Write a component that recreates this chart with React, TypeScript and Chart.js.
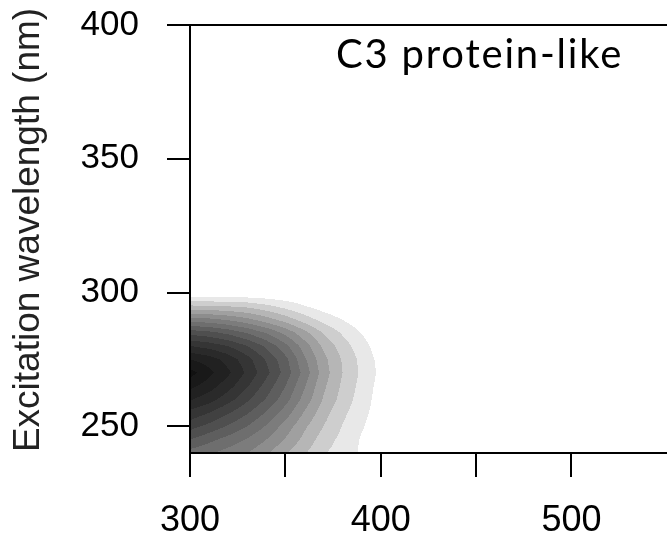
import React, { useEffect, useRef } from "react";
import { Chart, registerables } from "chart.js";

Chart.register(...registerables);

// Emission wavelength grid (nm) – x axis
const emissionNm = [300, 310, 320, 330, 340, 350, 360, 370, 380, 390, 400, 410];
// Excitation wavelength grid (nm) – y axis
const excitationNm = [240, 245, 250, 255, 260, 265, 270, 275, 280, 285, 290, 295, 300];

// Component intensity (in contour-level units), one row per excitation
const ex240 = [7.6, 7.1, 6.6, 6.0, 5.2, 4.1, 3.1, 2.1, 1.5, 0.85, 0.3, 0];
const ex245 = [9.0, 8.3, 7.6, 6.9, 6.0, 4.9, 3.7, 2.5, 1.7, 0.9, 0.35, 0];
const ex250 = [10.4, 9.7, 8.9, 8.0, 6.9, 5.6, 4.2, 3.0, 1.95, 1.1, 0.4, 0];
const ex255 = [11.7, 11.0, 10.1, 9.1, 7.9, 6.5, 4.9, 3.4, 2.25, 1.3, 0.5, 0];
const ex260 = [13.1, 12.4, 11.4, 10.2, 8.9, 7.4, 5.6, 3.9, 2.6, 1.5, 0.55, 0];
const ex265 = [14.3, 13.5, 12.4, 11.1, 9.6, 8.0, 6.1, 4.2, 2.8, 1.65, 0.62, 0];
const ex270 = [15.4, 14.3, 13.2, 11.8, 10.3, 8.6, 6.6, 4.5, 3.0, 1.8, 0.75, 0];
const ex275 = [14.0, 13.5, 12.6, 11.4, 9.9, 8.3, 6.2, 4.3, 2.9, 1.7, 0.65, 0];
const ex280 = [12.0, 11.6, 11.0, 10.0, 8.8, 7.3, 5.5, 3.8, 2.5, 1.4, 0.45, 0];
const ex285 = [9.6, 9.3, 8.7, 7.9, 6.9, 5.7, 4.3, 2.9, 1.85, 0.95, 0.2, 0];
const ex290 = [6.4, 6.2, 5.8, 5.2, 4.4, 3.5, 2.5, 1.6, 0.95, 0.3, 0, 0];
const ex295 = [3.1, 3.0, 2.9, 2.7, 2.2, 1.6, 1.0, 0.5, 0.1, 0, 0, 0];
const ex300 = [0, 0, 0, 0, 0, 0, 0, 0, 0, 0, 0, 0];

const intensityRows = [ex240, ex245, ex250, ex255, ex260, ex265, ex270, ex275, ex280, ex285, ex290, ex295, ex300];

// Grey value of each filled contour level (level 1 = outermost, lightest)
const levelGrays = [232, 206, 182, 160, 141, 124, 110, 94, 79, 65, 53, 42, 33, 25, 17];
const levelCount = levelGrays.length;

const xTickValues = [300, 350, 400, 450, 500];
const xLabelValues = [300, 400, 500];
const yTickValues = [250, 300, 350, 400];
const panelTitle = "C3 protein-like";
const yAxisTitle = "Excitation wavelength (nm)";

function sampleIntensity(em: number, ex: number): number {
  const nx = emissionNm.length;
  const ny = excitationNm.length;
  if (em < emissionNm[0] || em > emissionNm[nx - 1]) return 0;
  if (ex < excitationNm[0] || ex > excitationNm[ny - 1]) return 0;
  let i = 0;
  while (i < nx - 2 && em > emissionNm[i + 1]) i++;
  let j = 0;
  while (j < ny - 2 && ex > excitationNm[j + 1]) j++;
  const tx = (em - emissionNm[i]) / (emissionNm[i + 1] - emissionNm[i]);
  const ty = (ex - excitationNm[j]) / (excitationNm[j + 1] - excitationNm[j]);
  const a = intensityRows[j][i];
  const b = intensityRows[j][i + 1];
  const c = intensityRows[j + 1][i];
  const d = intensityRows[j + 1][i + 1];
  return (a * (1 - tx) + b * tx) * (1 - ty) + (c * (1 - tx) + d * tx) * ty;
}

const contourPlugin = {
  id: "eemContour",
  beforeDraw(chart: any) {
    const { ctx, chartArea, scales } = chart;
    const xs = scales.x;
    const ys = scales.y;
    const left = Math.round(chartArea.left);
    const top = Math.round(chartArea.top);
    const w = Math.round(chartArea.right) - left;
    const h = Math.round(chartArea.bottom) - top;
    if (w <= 0 || h <= 0) return;
    const off = document.createElement("canvas");
    off.width = w;
    off.height = h;
    const octx = off.getContext("2d")!;
    const img = octx.createImageData(w, h);
    const emv = new Float64Array(w);
    const exv = new Float64Array(h);
    for (let x = 0; x < w; x++) emv[x] = xs.getValueForPixel(left + x + 0.5);
    for (let y = 0; y < h; y++) exv[y] = ys.getValueForPixel(top + y + 0.5);
    for (let y = 0; y < h; y++) {
      for (let x = 0; x < w; x++) {
        const v = sampleIntensity(emv[x], exv[y]);
        const L = Math.min(levelCount, Math.floor(v));
        if (L <= 0) continue;
        const g = levelGrays[L - 1];
        const k = (y * w + x) * 4;
        img.data[k] = g;
        img.data[k + 1] = g;
        img.data[k + 2] = g;
        img.data[k + 3] = 255;
      }
    }
    octx.putImageData(img, 0, 0);
    ctx.drawImage(off, left, top);
  },
  afterDraw(chart: any) {
    const { ctx, chartArea } = chart;
    ctx.save();
    ctx.strokeStyle = "#000";
    ctx.lineWidth = 2;
    ctx.beginPath();
    ctx.moveTo(chartArea.left - 1, chartArea.top);
    ctx.lineTo(chartArea.right, chartArea.top);
    ctx.stroke();
    ctx.fillStyle = "#000";
    ctx.font = "40px Lato, 'Open Sans', sans-serif";
    try {
      (ctx as any).letterSpacing = "1.8px";
    } catch (e) {
      /* ignore */
    }
    ctx.textBaseline = "alphabetic";
    ctx.textAlign = "left";
    ctx.fillText(panelTitle, 336, 68);
    ctx.restore();

    ctx.save();
    ctx.fillStyle = "#222";
    ctx.font = "37px 'Liberation Sans', Arial, sans-serif";
    ctx.textAlign = "center";
    ctx.textBaseline = "middle";
    ctx.translate(29, 230);
    ctx.rotate(-Math.PI / 2);
    ctx.fillText(yAxisTitle, 0, 0);
    ctx.restore();
  },
};

export default function App() {
  const canvasRef = useRef<HTMLCanvasElement | null>(null);

  useEffect(() => {
    const canvas = canvasRef.current;
    if (!canvas) return;
    const points: { x: number; y: number }[] = [];
    excitationNm.forEach((ex) => emissionNm.forEach((em) => points.push({ x: em, y: ex })));
    const chart = new Chart(canvas, {
      type: "scatter",
      data: {
        datasets: [
          {
            label: "C3",
            data: points,
            pointRadius: 0,
            pointHoverRadius: 0,
            showLine: false,
          },
        ],
      },
      plugins: [contourPlugin],
      options: {
        animation: false,
        responsive: false,
        devicePixelRatio: 1,
        events: [],
        layout: { padding: { top: 25, left: 0, right: 0, bottom: 0 } },
        plugins: {
          legend: { display: false },
          tooltip: { enabled: false },
          title: { display: false },
        },
        scales: {
          x: {
            type: "linear",
            position: "bottom",
            min: 300,
            max: 580,
            afterBuildTicks: (scale: any) => {
              scale.ticks = xTickValues.map((v) => ({ value: v }));
            },
            afterFit: (scale: any) => {
              scale.height = 88;
              scale.paddingLeft = 0;
              scale.paddingRight = 0;
            },
            border: { display: true, color: "#000", width: 2 },
            grid: {
              display: true,
              drawOnChartArea: false,
              drawTicks: true,
              tickLength: 24,
              tickColor: "#000",
              tickWidth: 2,
              color: "#000",
              lineWidth: 2,
            },
            ticks: {
              autoSkip: false,
              maxRotation: 0,
              minRotation: 0,
              padding: 22,
              color: "#000",
              font: { family: "'Liberation Sans', Arial, sans-serif", size: 36 },
              callback: (value: any) => (xLabelValues.includes(Number(value)) ? String(value) : ""),
            },
          },
          y: {
            type: "linear",
            position: "left",
            min: 240,
            max: 400,
            afterBuildTicks: (scale: any) => {
              scale.ticks = yTickValues.map((v) => ({ value: v }));
            },
            afterFit: (scale: any) => {
              scale.width = 190;
              scale.paddingTop = 0;
              scale.paddingBottom = 0;
            },
            border: { display: true, color: "#000", width: 2 },
            grid: {
              display: true,
              drawOnChartArea: false,
              drawTicks: true,
              tickLength: 23,
              tickColor: "#000",
              tickWidth: 2,
              color: "#000",
              lineWidth: 2,
            },
            ticks: {
              autoSkip: false,
              padding: 28,
              color: "#000",
              font: { family: "'Liberation Sans', Arial, sans-serif", size: 35 },
              callback: (value: any) => String(value),
            },
            title: { display: false },
          },
        },
      },
    });
    return () => chart.destroy();
  }, []);

  return (
    <div
      style={{
        position: "fixed",
        left: 0,
        top: 0,
        width: 667,
        height: 541,
        overflow: "hidden",
        background: "#fff",
      }}
    >
      <canvas ref={canvasRef} width={724} height={541} style={{ display: "block" }} />
    </div>
  );
}
